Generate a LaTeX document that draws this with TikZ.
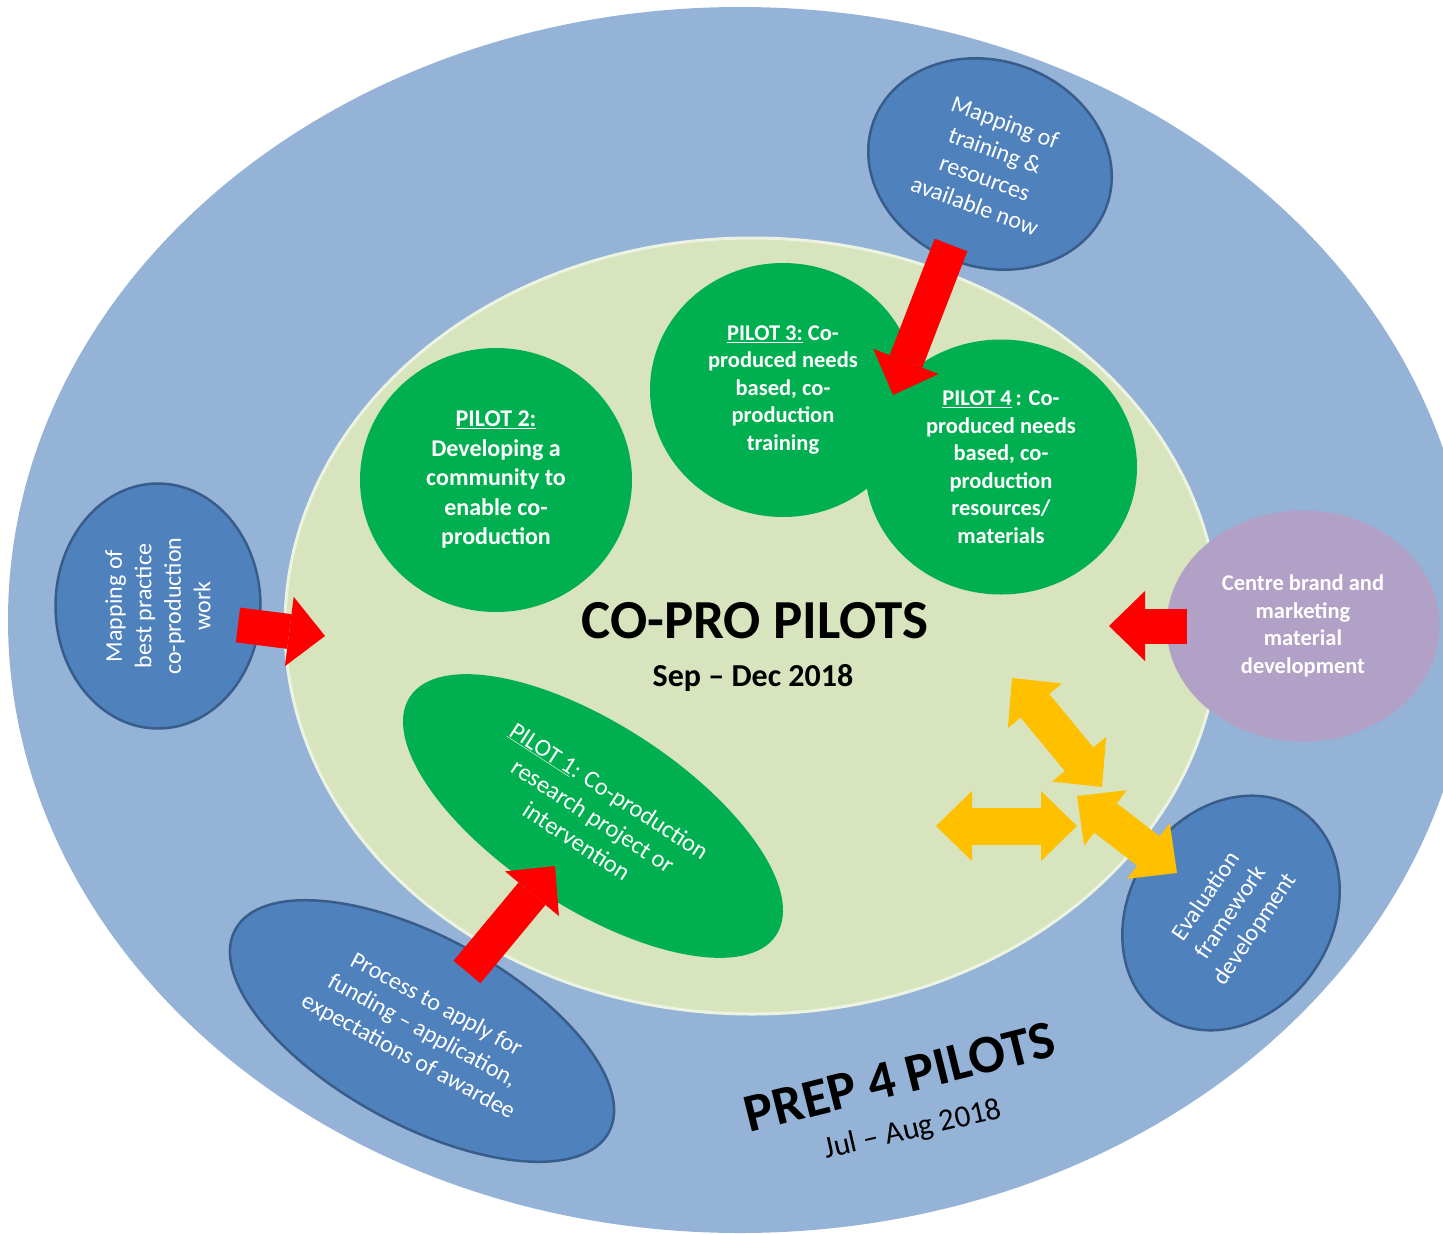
\documentclass[tikz,border=0pt]{standalone}
\usepackage{fontspec}
\setmainfont{Carlito}
\usetikzlibrary{arrows.meta, shapes.geometric}
\definecolor{prepblue}{RGB}{149,179,215}
\definecolor{coprogreen}{RGB}{215,228,189}
\definecolor{taskblue}{RGB}{79,129,189}
\definecolor{taskedge}{RGB}{56,93,138}
\definecolor{brandpurple}{RGB}{178,161,199}
\definecolor{pilotgreen}{RGB}{0,176,80}
\definecolor{pushred}{RGB}{255,0,0}
\definecolor{linkyellow}{RGB}{255,192,0}

\begin{document}
\begin{tikzpicture}[x=1pt, y=-1pt,
    task/.style={ellipse, draw=taskedge, line width=2.5pt, fill=taskblue, text=white, align=center, inner sep=0pt, font=\fontsize{24}{29.5}\selectfont},
    pilot/.style={ellipse, fill=pilotgreen, text=white, align=center, inner sep=0pt, font=\fontsize{22.5}{27.5}\selectfont\bfseries},
    push/.style={-{Triangle[width=70pt, length=36pt, line width=0pt]}, line width=35pt, draw=pushred},
    link/.style={{Triangle[width=70pt, length=36pt, line width=0pt]}-{Triangle[width=70pt, length=36pt, line width=0pt]}, line width=37pt, draw=linkyellow}
]
\useasboundingbox (0,0) rectangle (1443,1234);
\clip (0,0) rectangle (1443,1234);
\node[ellipse, fill=prepblue, minimum width=1464, minimum height=1226, inner sep=0pt] (prep) at (740,620) {};
\node[ellipse, fill=coprogreen, draw=white!55!coprogreen, line width=3pt, minimum width=934, minimum height=776, inner sep=0pt] (copro) at (752,626) {};
\node[task, rotate=-20, minimum width=248, minimum height=206] (training) at (990,164) {Mapping of\\training \&\\resources\\available now};
\node[task, rotate=90, minimum width=245, minimum height=205] (practice) at (158,606) {Mapping of\\best practice\\co-production\\work};
\node[task, rotate=-28.5, minimum width=425, minimum height=188] (funding) at (422,1031) {Process to apply for\\funding – application,\\expectations of awardee};
\node[task, rotate=56, minimum width=248, minimum height=202] (evaluation) at (1231,913) {Evaluation\\framework\\development};
\node[ellipse, fill=brandpurple, text=white, align=center, inner sep=0pt, minimum width=273, minimum height=231, font=\fontsize{22.5}{27.5}\selectfont\bfseries] (brand) at (1303,626) {Centre brand and\\marketing\\material\\development};
\node[pilot, minimum width=272, minimum height=264, font=\fontsize{24}{29.5}\selectfont\bfseries] (pilottwo) at (496,480) {\underline{PILOT 2:}\\Developing a\\community to\\enable co-\\production};
\node[pilot, minimum width=266, minimum height=254] (pilotthree) at (783,390) {\underline{PILOT 3:} Co-\\produced needs\\based, co-\\production\\training};
\node[pilot, minimum width=272, minimum height=255] (pilotfour) at (1001,467) {\underline{PILOT 4}\,: Co-\\produced needs\\based, co-\\production\\resources/\\materials};
\node[pilot, rotate=-33, minimum width=437, minimum height=184, font=\fontsize{24.5}{30}\selectfont] (pilotone) at (593,816) {\underline{PILOT 1}: Co-production\\research project or\\intervention};
\node[font=\fontsize{55}{66}\selectfont\bfseries] (title) at (755,621) {CO-PRO PILOTS};
\node[font=\fontsize{32}{38}\selectfont\bfseries] (titledate) at (753,678) {Sep – Dec 2018};
\node[rotate=14, font=\fontsize{54}{64}\selectfont\bfseries] (preptitle) at (900,1077) {PREP 4 PILOTS};
\node[rotate=13, font=\fontsize{31}{37}\selectfont] (prepdate) at (913,1130) {Jul – Aug 2018};
\coordinate (trainfrom) at (951,245);
\coordinate (trainto) at (893,395);
\coordinate (practicefrom) at (238,625);
\coordinate (practiceto) at (325,636);
\coordinate (brandfrom) at (1187,626);
\coordinate (brandto) at (1109,626);
\coordinate (fundfrom) at (467,972);
\coordinate (fundto) at (555,866);
\coordinate (linkwest) at (936,826);
\coordinate (linkeast) at (1077,826);
\coordinate (linknorth) at (1012,678);
\coordinate (linkhub) at (1102,787);
\coordinate (linkmid) at (1077,796);
\coordinate (linksouth) at (1177,873);
\draw[push] (trainfrom) -- (trainto);
\draw[push] (practicefrom) -- (practiceto);
\draw[push] (brandfrom) -- (brandto);
\draw[push] (fundfrom) -- (fundto);
\draw[link] (linkwest) -- (linkeast);
\draw[link] (linknorth) -- (linkhub);
\draw[link] (linkmid) -- (linksouth);
\end{tikzpicture}
\end{document}
